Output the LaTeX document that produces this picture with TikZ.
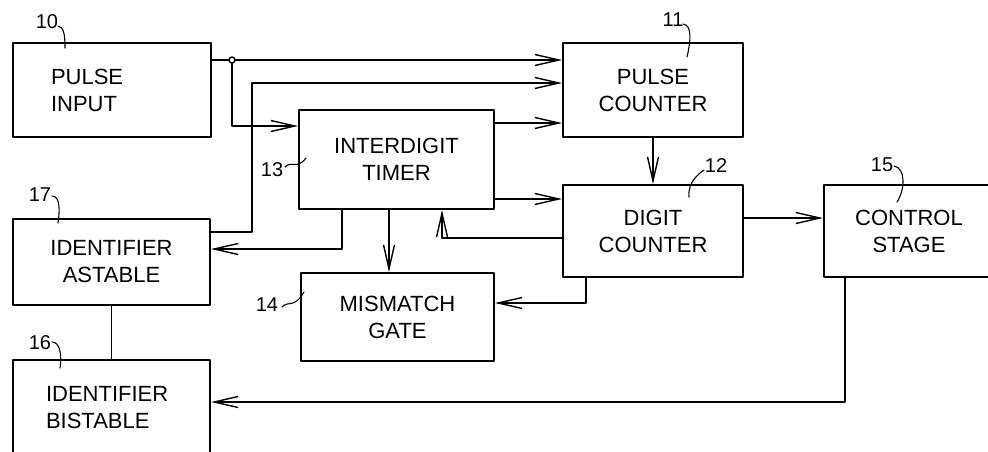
\documentclass[tikz,border=0pt]{standalone}
\usepackage{fontspec}
\setmainfont{Liberation Sans}
\usetikzlibrary{arrows.meta}
\tikzset{
  blk/.style={draw, line width=2pt, anchor=north west, inner sep=0pt, align=center,
    font=\fontsize{22}{27}\selectfont},
  wire/.style={line width=1.5pt},
  arr/.style={wire, -{Straight Barb[length=24pt,width=11pt,line width=1.4pt]}},
  num/.style={inner sep=0pt, font=\fontsize{20}{24}\selectfont},
  ldr/.style={line width=1.1pt},
}
\begin{document}
\begin{tikzpicture}[x=1pt,y=-1pt,line join=round,line cap=round]
\useasboundingbox (0,0) rectangle (988,451);
\clip (0,0) rectangle (988,451);
% blocks
\node[blk,minimum width=198,minimum height=94,text width=122pt,inner xsep=38pt,align=left] (pi) at (12,42) {PULSE\\INPUT};
\node[blk,minimum width=180,minimum height=94] (pc) at (562,42) {PULSE\\COUNTER};
\node[blk,minimum width=195,minimum height=99] (it) at (298,109) {INTERDIGIT\\TIMER};
\node[blk,minimum width=180,minimum height=92] (dc) at (562,184) {DIGIT\\COUNTER};
\node[blk,minimum width=170,minimum height=92] (cs) at (823,184) {CONTROL\\STAGE};
\node[blk,minimum width=197,minimum height=86] (ia) at (12,218) {IDENTIFIER\\ASTABLE};
\node[blk,minimum width=193,minimum height=88] (mg) at (300,272) {MISMATCH\\GATE};
\node[blk,minimum width=197,minimum height=95,text width=131pt,inner xsep=33pt,align=left] (ib) at (12,359) {IDENTIFIER\\BISTABLE};
% reference numbers
\node[num] (n10) at (47,22) {10};
\node[num] (n11) at (673,20) {11};
\node[num] (n12) at (716,166) {12};
\node[num] (n13) at (272,170) {13};
\node[num] (n14) at (267,305) {14};
\node[num] (n15) at (882,165) {15};
\node[num] (n16) at (40,343) {16};
\node[num] (n17) at (40,195) {17};
\draw[ldr] (58,26) .. controls (64,27) and (65,35) .. (65,48);
\draw[ldr] (683,24) .. controls (692,25) and (691,40) .. (687,57);
\draw[ldr] (704,170) .. controls (692,178) and (688,188) .. (689,197);
\draw[ldr] (285,167) .. controls (292,160) and (297,170) .. (306,158);
\draw[ldr] (282,307) .. controls (289,300) and (294,309) .. (304,292);
\draw[ldr] (894,166) .. controls (906,168) and (905,190) .. (897,202);
\draw[ldr] (52,342) .. controls (60,342) and (62,355) .. (60,368);
\draw[ldr] (52,196) .. controls (60,196) and (60,210) .. (58,223);
% bends
\coordinate (jn) at (232,60);
\coordinate (ji) at (232,126);
\coordinate (ra1) at (252,232);
\coordinate (ra2) at (252,83);
\coordinate (tp) at (493,123);
\coordinate (td) at (493,199);
\coordinate (dcs) at (742,218);
\coordinate (fb) at (442,238);
\coordinate (ta) at (342,249);
\coordinate (tm) at (389,208);
\coordinate (dm) at (586,303);
\coordinate (cb) at (845,402);
% connections
\draw[wire] (pi.east |- jn) -- (jn);
\draw[arr] (jn) -- (pc.west |- jn);
\draw[arr] (jn) |- (it.west |- ji);
\draw[arr] (ia.east |- ra1) -- (ra1) -- (ra2) -- (pc.west |- ra2);
\draw[arr] (it.east |- tp) -- (pc.west |- tp);
\draw[arr] (it.east |- td) -- (dc.west |- td);
\draw[arr] (pc.south) -- (dc.north);
\draw[arr] (dc.east |- dcs) -- (cs.west |- dcs);
\draw[arr] (dc.west |- fb) -- (fb) -- (it.south -| fb);
\draw[arr] (it.south -| ta) -- (ta) -- (ia.east |- ta);
\draw[arr] (it.south -| tm) -- (mg.north -| tm);
\draw[arr] (dc.south -| dm) -- (dm) -- (mg.east |- dm);
\draw[arr] (cs.south -| cb) -- (cb) -- (ib.east |- cb);
\draw[line width=0.9pt] (ia.south) -- (ib.north);
\draw[wire,fill=white] (jn) circle (3);
\end{tikzpicture}
\end{document}
